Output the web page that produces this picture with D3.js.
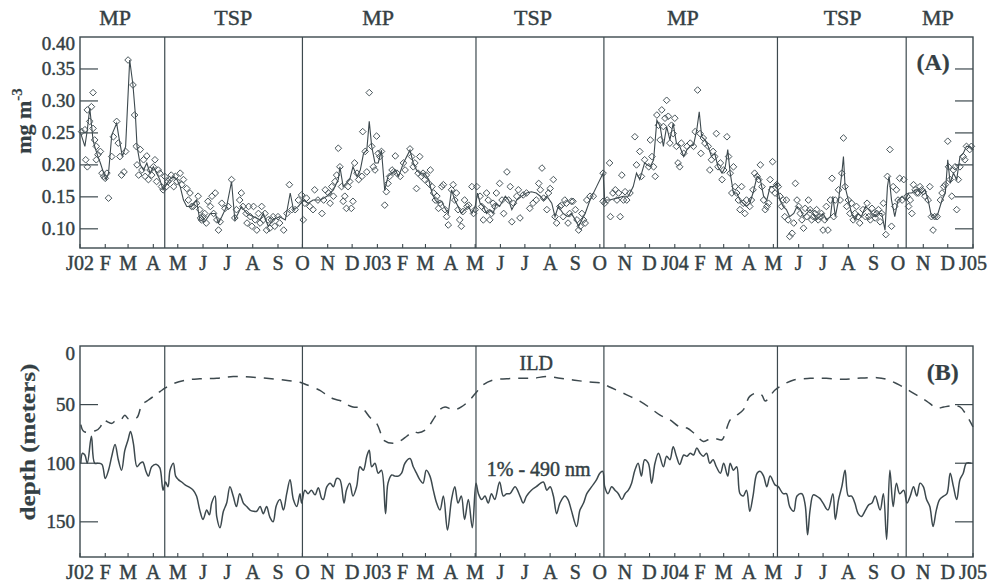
<!DOCTYPE html>
<html>
<head>
<meta charset="utf-8">
<script src="https://cdn.jsdelivr.net/npm/d3@7"></script>
<style>
  body { margin: 0; background: #ffffff; }
  text {
    font-family: "Liberation Serif", "Times New Roman", Times, serif;
    fill: #343f44;
    stroke: #343f44;
    stroke-width: 0.45px;
  }
</style>
</head>
<body>
<svg id="chart" width="988" height="586"></svg>
<script>
// ---------------------------------------------------------------------------
// Data (time is given as days since 1 Jan 2002)
// ---------------------------------------------------------------------------
const monthLabels = ["J02","F","M","A","M","J","J","A","S","O","N","D",
                     "J03","F","M","A","M","J","J","A","S","O","N","D",
                     "J04","F","M","A","M","J","J","A","S","O","N","D","J05"];

const periodNames = ["MP","TSP","MP","TSP","MP","TSP","MP"];
const periodLabelDays = [43, 188, 366, 556, 740, 936, 1053];
const periodBreakDays = [104, 273, 486, 643, 856, 1014];

const chlTicks = [0.10, 0.15, 0.20, 0.25, 0.30, 0.35, 0.40];
const depthTicks = [0, 50, 100, 150];

// Surface chlorophyll (mg m-3): running series
const chlSeries = [
  [1,0.249],[6,0.229],[9,0.255],[12,0.289],[16,0.239],[18,0.229],[22,0.213],[25,0.203],[29,0.187],[32,0.177],
  [35,0.187],[39,0.247],[45,0.265],[47,0.249],[49,0.234],[52,0.213],[56,0.229],[61,0.364],[65,0.325],[68,0.278],
  [70,0.229],[74,0.200],[78,0.192],[82,0.203],[86,0.187],[90,0.197],[94,0.187],[98,0.177],[102,0.161],[106,0.169],
  [110,0.177],[115,0.182],[119,0.177],[123,0.166],[127,0.145],[131,0.135],[137,0.135],[143,0.145],[147,0.114],[153,0.111],
  [160,0.124],[166,0.124],[170,0.109],[174,0.119],[180,0.135],[186,0.174],[190,0.114],[194,0.124],[198,0.135],[205,0.124],
  [213,0.119],[221,0.114],[225,0.124],[231,0.104],[237,0.114],[245,0.119],[252,0.114],[258,0.156],[262,0.130],[268,0.135],
  [274,0.145],[280,0.140],[286,0.145],
  [295,0.145],[303,0.151],[311,0.161],[317,0.177],[319,0.197],[323,0.166],[331,0.177],[335,0.197],[340,0.182],[344,0.192],
  [348,0.218],[352,0.223],[355,0.268],[358,0.229],[362,0.203],[366,0.203],[370,0.223],[374,0.160],[378,0.182],[383,0.187],
  [387,0.192],[391,0.182],[397,0.203],[405,0.223],[409,0.203],[413,0.192],[417,0.187],[423,0.187],[428,0.177],[432,0.156],
  [436,0.145],[440,0.140],[444,0.143],[448,0.132],[452,0.124],[456,0.161],[460,0.145],[464,0.135],[468,0.124],[472,0.130],
  [477,0.135],[481,0.124],[485,0.135],[488,0.156],[491,0.140],[495,0.135],[499,0.124],[503,0.130],[507,0.124],[511,0.140],
  [515,0.135],[522,0.151],[526,0.145],[530,0.130],[536,0.145],[542,0.151],[548,0.156],[554,0.158],[560,0.156],[565,0.151],
  [569,0.145],[573,0.151],[579,0.140],[583,0.119],[587,0.135],[593,0.124],[599,0.119],[603,0.124],[608,0.114],[612,0.104],
  [616,0.114],[620,0.124],[626,0.145],[634,0.166],[642,0.187],[644,0.145],[650,0.145],[659,0.148],[667,0.151],[673,0.151],
  [679,0.166],[683,0.187],[687,0.177],[693,0.203],
  [700,0.197],[704,0.208],[708,0.270],[712,0.260],[716,0.229],[720,0.260],[724,0.239],[728,0.265],[732,0.234],[736,0.229],
  [741,0.213],[745,0.224],[749,0.229],[753,0.231],[757,0.255],[760,0.283],[763,0.244],[767,0.239],[771,0.229],[775,0.213],
  [779,0.218],[783,0.197],[788,0.187],[792,0.197],[795,0.224],[798,0.187],[802,0.156],[806,0.156],[810,0.145],[814,0.140],
  [818,0.135],[822,0.140],[826,0.156],[831,0.182],[835,0.177],[839,0.151],[843,0.145],[847,0.166],[851,0.166],[855,0.171],
  [859,0.145],[863,0.135],[867,0.130],[871,0.119],[876,0.124],[880,0.135],[884,0.130],[888,0.119],[892,0.124],[896,0.130],
  [900,0.124],[904,0.114],[908,0.119],[912,0.124],[916,0.114],[921,0.119],[924,0.151],[927,0.119],[931,0.145],[935,0.187],
  [937,0.213],[939,0.166],[943,0.145],[947,0.124],[951,0.114],[955,0.124],[959,0.119],[964,0.135],[968,0.130],[972,0.124],
  [976,0.119],[980,0.124],[984,0.124],[988,0.098],[991,0.166],[993,0.182],[996,0.145],[1000,0.119],[1004,0.145],[1009,0.151],
  [1013,0.145],[1017,0.156],[1021,0.156],[1025,0.161],[1029,0.161],[1033,0.156],[1037,0.161],[1041,0.145],[1045,0.119],[1049,0.117],
  [1053,0.124],[1058,0.145],[1062,0.156],[1065,0.208],[1068,0.171],[1072,0.187],[1076,0.177],[1080,0.213],[1084,0.218],[1088,0.229],
  [1092,0.229],[1096,0.224]
];

// Surface chlorophyll (mg m-3): individual retrievals
const chlSamples = [
  [2,0.252],[6,0.255],[7,0.208],[9,0.197],[9,0.286],[12,0.268],[16,0.313],[14,0.291],[16,0.257],[18,0.239],
  [20,0.229],[20,0.208],[22,0.216],[25,0.221],[27,0.187],[29,0.182],[31,0.179],[33,0.187],[35,0.148],[39,0.213],
  [41,0.244],[45,0.268],[47,0.234],[49,0.213],[51,0.184],[54,0.189],[56,0.221],[59,0.364],[65,0.325],[67,0.278],
  [69,0.229],[70,0.200],[72,0.184],[74,0.224],[76,0.192],[78,0.208],[80,0.182],[82,0.214],[84,0.177],[86,0.192],
  [88,0.184],[90,0.197],[92,0.208],[94,0.174],[96,0.192],[98,0.187],[100,0.166],[102,0.161],[104,0.182],[106,0.166],
  [108,0.174],[110,0.177],[112,0.184],[115,0.166],[117,0.182],[119,0.174],[123,0.187],[125,0.169],[127,0.177],[131,0.163],
  [133,0.145],[135,0.156],[137,0.135],[139,0.135],[143,0.140],[145,0.151],[147,0.130],[148,0.117],[149,0.114],[151,0.119],
  [153,0.124],[155,0.109],[157,0.143],[160,0.135],[162,0.151],[164,0.124],[166,0.156],[168,0.114],[170,0.098],[172,0.111],
  [174,0.140],[178,0.132],[182,0.135],[186,0.177],[190,0.117],[192,0.130],[196,0.145],[198,0.156],[200,0.135],[204,0.124],
  [205,0.109],[207,0.135],[209,0.119],[211,0.104],[213,0.135],[215,0.114],[217,0.098],[219,0.124],[221,0.109],[223,0.135],
  [225,0.114],[227,0.124],[229,0.098],[231,0.114],[233,0.101],[235,0.114],[237,0.119],[239,0.104],[243,0.119],[245,0.109],
  [250,0.098],[254,0.124],[257,0.169],[260,0.130],[264,0.130],[268,0.145],[272,0.153],[274,0.114],[276,0.140],[278,0.148],
  [282,0.135],[286,0.130],[288,0.161],[292,0.145],
  [297,0.124],[299,0.145],[301,0.161],[305,0.156],[307,0.140],[309,0.166],[311,0.151],[313,0.174],[315,0.184],[317,0.226],
  [319,0.197],[321,0.166],[323,0.143],[325,0.151],[327,0.132],[329,0.166],[331,0.174],[333,0.132],[335,0.143],[337,0.203],
  [340,0.187],[342,0.177],[346,0.182],[347,0.252],[350,0.221],[352,0.189],[355,0.313],[358,0.229],[360,0.197],[362,0.192],
  [364,0.245],[366,0.218],[368,0.213],[370,0.221],[374,0.137],[376,0.158],[378,0.171],[380,0.182],[383,0.192],[385,0.189],
  [387,0.214],[389,0.187],[393,0.182],[397,0.203],[399,0.192],[405,0.225],[407,0.213],[409,0.197],[411,0.203],[413,0.163],
  [415,0.187],[417,0.213],[419,0.182],[421,0.187],[423,0.177],[425,0.184],[428,0.171],[430,0.192],[432,0.166],[434,0.156],
  [436,0.145],[438,0.151],[440,0.132],[442,0.140],[444,0.166],[446,0.169],[448,0.130],[450,0.119],[452,0.106],[456,0.161],
  [458,0.169],[460,0.145],[462,0.156],[464,0.130],[466,0.114],[468,0.104],[470,0.127],[472,0.145],[475,0.135],[477,0.137],
  [481,0.166],[483,0.124],[485,0.130],[487,0.166],[491,0.151],[493,0.135],[495,0.114],[497,0.130],[499,0.156],[501,0.145],
  [503,0.114],[505,0.124],[507,0.140],[509,0.135],[511,0.156],[515,0.171],[518,0.145],[520,0.124],[524,0.189],[526,0.145],
  [528,0.166],[530,0.111],[532,0.140],[536,0.151],[538,0.161],[540,0.117],[544,0.153],[548,0.156],[552,0.132],[556,0.140],
  [560,0.145],[563,0.171],[565,0.161],[567,0.195],[569,0.148],[573,0.130],[575,0.156],[577,0.163],[581,0.177],[583,0.119],
  [585,0.109],[589,0.135],[591,0.137],[593,0.119],[595,0.145],[597,0.140],[599,0.109],[601,0.124],[603,0.143],[605,0.143],
  [608,0.130],[610,0.114],[612,0.098],[614,0.104],[616,0.124],[618,0.114],[620,0.109],[622,0.145],[626,0.151],[630,0.151],
  [642,0.187],[642,0.143],[644,0.140],[647,0.145],[650,0.203],[651,0.119],[654,0.156],[657,0.161],[659,0.145],[661,0.156],
  [663,0.119],[665,0.184],[667,0.145],[669,0.158],[671,0.145],[675,0.156],[681,0.244],[683,0.200],[687,0.221],[689,0.182],
  [693,0.208],[698,0.197],
  [700,0.239],[702,0.213],[704,0.197],[706,0.182],[708,0.278],[710,0.262],[712,0.239],[714,0.286],[716,0.260],[718,0.273],
  [720,0.301],[722,0.276],[724,0.234],[726,0.262],[728,0.249],[730,0.273],[732,0.229],[734,0.203],[736,0.197],[738,0.234],
  [741,0.218],[745,0.229],[749,0.234],[753,0.229],[755,0.252],[758,0.317],[761,0.249],[762,0.218],[765,0.242],[767,0.234],
  [771,0.229],[773,0.192],[775,0.208],[777,0.221],[779,0.213],[781,0.249],[783,0.197],[786,0.203],[788,0.177],[790,0.192],
  [794,0.244],[796,0.213],[798,0.187],[800,0.156],[802,0.197],[804,0.166],[806,0.156],[808,0.145],[810,0.130],[812,0.166],
  [814,0.140],[816,0.124],[818,0.145],[822,0.135],[824,0.145],[826,0.161],[828,0.187],[831,0.182],[833,0.177],[835,0.200],
  [837,0.166],[839,0.145],[841,0.130],[843,0.135],[845,0.140],[847,0.177],[849,0.161],[850,0.205],[853,0.156],[855,0.169],
  [857,0.166],[859,0.151],[861,0.135],[863,0.145],[865,0.119],[867,0.145],[869,0.114],[871,0.088],[874,0.093],[876,0.109],
  [878,0.171],[880,0.145],[882,0.135],[884,0.124],[886,0.114],[888,0.101],[890,0.132],[892,0.119],[894,0.145],[896,0.130],
  [898,0.114],[900,0.119],[902,0.124],[904,0.130],[906,0.114],[908,0.119],[910,0.124],[912,0.098],[914,0.114],[916,0.135],
  [918,0.098],[921,0.145],[923,0.179],[925,0.119],[927,0.145],[931,0.161],[933,0.145],[935,0.187],[937,0.242],[939,0.166],
  [941,0.135],[943,0.145],[945,0.124],[947,0.140],[949,0.114],[951,0.124],[953,0.135],[955,0.119],[957,0.109],[961,0.130],
  [964,0.119],[966,0.140],[968,0.119],[970,0.114],[972,0.132],[974,0.124],[976,0.117],[978,0.124],[980,0.130],[982,0.111],
  [984,0.124],[986,0.140],[989,0.091],[991,0.182],[994,0.224],[996,0.104],[998,0.166],[1000,0.135],[1002,0.161],[1004,0.145],
  [1006,0.179],[1009,0.145],[1011,0.177],[1015,0.151],[1017,0.135],[1019,0.145],[1021,0.124],[1023,0.169],[1025,0.161],[1027,0.156],
  [1029,0.156],[1031,0.166],[1033,0.161],[1035,0.158],[1037,0.151],[1041,0.145],[1043,0.166],[1045,0.119],[1047,0.098],[1049,0.119],
  [1052,0.119],[1056,0.145],[1058,0.156],[1060,0.166],[1062,0.169],[1065,0.237],[1066,0.197],[1068,0.177],[1070,0.151],[1072,0.192],
  [1074,0.197],[1076,0.130],[1078,0.177],[1080,0.197],[1084,0.213],[1086,0.208],[1088,0.229],[1092,0.224],[1094,0.229]
];

// Isothermal layer depth (m)
const ildDepth = [
  [1,67],[5,73],[20,72],[25,69],[29,63],[32,64],[39,66],[43,64],[50,63],[55,59],[59,62],[63,62.5],[70,61],[76,50],
  [82,47],[90,43],[94,40],[98,39],[104,36],[115,32],[131,29],[147,28],[168,27.5],[188,26],[209,26.5],[229,27.5],
  [250,29],[270,31],[278,33],[295,38],[303,42],[311,45],[321,47],[325,49],[335,52],[346,53],[356,61],[364,66],
  [370,76],[374,81],[385,83],[393,81],[401,77],[409,73],[415,74],[425,71],[436,60],[442,54],[448,52],[456,54],
  [462,54],[468,52],[477,47],[487,39],[495,33],[507,29],[524,28],[540,27.5],[556,27.5],[573,26],[589,27.5],[605,29],
  [622,30.5],[642,32],[650,35],[663,39],[675,43],[687,47],[700,53],[712,59],[724,63],[736,69],[745,70],[753,74],
  [765,81.5],[771,80],[779,79],[788,80],[792,74],[798,63],[806,59],[814,54.5],[822,43],[831,40],[837,42],[841,47],
  [853,37.5],[863,33],[876,29],[896,27.6],[916,27.6],[937,28.4],[953,27.6],[978,27],[990,28.4],[1002,32],[1013,36],
  [1027,42],[1039,47],[1052,53],[1060,52],[1072,51],[1080,52],[1088,59],[1096,69]
];

// Depth of the 1% light level at 490 nm (m)
const lightDepth = [
  [1,100],[3,91.5],[6,93],[9,100],[14,77],[18,100],[22.5,100],[27,101],[31,113],[35,106],[39,94],[43,84],[47,97],
  [51,106],[55,89],[59,80],[62,73],[65.5,83],[70,103],[74,100],[77,99],[81,107],[84,111],[88,103],[94,101],[98,104],
  [102,123],[105,116],[108,120],[110.5,106],[114.6,100],[117.4,111],[120.7,114],[124.8,116],[129,118.5],[133,120],
  [139,123],[143,128],[147,140],[151,148],[155.5,140],[158.8,144],[161.6,134],[165.7,128],[167.8,145.5],[171.8,155],
  [176,141],[180,134],[184,120],[188,128],[192,137],[196,126],[200.5,134],[204.6,137],[208.7,140],[212.8,141],
  [216.9,141],[221,137],[225,143],[229,137],[233,146],[237,150],[241,136],[245.5,131],[249.6,140],[253.7,126],
  [257.8,114],[261.9,131],[266,137],[270,126],[272,134],[276,123],[280,126],[284,123],[288.5,127],[292.5,121],[296.6,130],
  [298.6,131],[303,120],[307,117],[311,120],[315,113],[319,114],[324,134],[327,123],[331,117],[335,128],[339.5,120],
  [343.6,103],[347.7,106],[352,94],[355,89],[358,103],[362,100],[366,108.5],[370,106],[375,143],[378,117],[382.5,110],
  [386.6,111],[390.7,111],[394.7,108.5],[398.8,100],[405,96],[409,103],[413,108.5],[417,114],[421,117],[425,106],
  [429.5,111],[433.6,123],[437.7,134],[441.8,140],[446,128],[451,157],[456,131],[460,120],[464,134],[468,128],[472,148],
  [476.6,131],[481.5,155],[486,117],[489,126],[493,131],[497,128],[501,134],[505,126],[509,131],[515,116],[519.5,128],
  [523.6,126],[527.7,126],[534,120],[540,128],[544,134],[548,128],[554,123],[560,120],[568.6,116],[573,123],[577,120],
  [581,128],[585,143],[589,134],[595,128],[599,131],[603,140],[609.5,154],[613.6,140],[618,134],[622,126],[628,120],
  [634,114],[638,108.5],[641.5,107],[644,120],[648,126],[652.5,120],[656.6,123],[660.7,126],[665,131],[669,126],[673,123],
  [677,117],[681,106],[685,100],[689,111],[693,97],[697.5,100],[701.6,117],[705.7,100],[710,91.5],
  [716,103],[720,94],[724,97],[728,86],[732,94],[736,101],[741,93],[745,94],[749,91.5],[753,93],[757,87],[761,91.5],
  [765,94],[769,91.5],[773,100],[777,97],[781,103],[786,108.5],[790,100],[795,111],[798,100],[802,106],[806,103],
  [810,126],[814,128],[818,123],[822,141],[826,128],[831,108.5],[835,107],[839,111],[843,120],[847,111],[853,118.5],
  [857,120],[863,126],[867,126],[871,137],[876,141],[880,128],[886,126],[890,135.5],[893,161],[896,140],[900,127],
  [904,128],[908,130],[912,134],[918,140],[924,126],[927,148],[931,131],[935,120],[939,106],[943,128],[947,128],
  [951,134],[955,143],[959,145.5],[964,140],[968,135.5],[972,134],[976,128],[982,140],[986,126],[990,165],[994,106],
  [998,137],[1002,117],[1006,126],[1011,123],[1015,134],[1019,128],[1023,120],[1027,128],[1031,117],[1035,120],
  [1039,131],[1043,137],[1047,154],[1051,140],[1055,131],[1060,128],[1064,126],[1068,108.5],[1072,120],[1076,131],
  [1080,114],[1084,108.5],[1088,100],[1094,100]
];

// ---------------------------------------------------------------------------
// Layout and scales
// ---------------------------------------------------------------------------
const ink = "#3d494e";
const plotLeft = 80, plotRight = 973;
const panelA = { top: 37, bottom: 248 };
const panelB = { top: 346, bottom: 557 };

const origin = Date.UTC(2002, 0, 1);
const dayToDate = d => new Date(origin + d * 864e5);

const x = d3.scaleUtc()
  .domain([new Date(origin), new Date(Date.UTC(2005, 0, 1))])
  .range([plotLeft, plotRight]);
const yChl = d3.scaleLinear().domain([0.07, 0.40]).range([panelA.bottom, panelA.top]);
const yDepth = d3.scaleLinear().domain([0, 180]).range([panelB.top, panelB.bottom]);

const months = d3.utcMonth.range(new Date(origin), new Date(Date.UTC(2005, 0, 2)));

const svg = d3.select("#chart");

// ---------------------------------------------------------------------------
// Shared frame drawing for one panel
// ---------------------------------------------------------------------------
function drawFrame(g, panel, y, ticks, fmt, topLabelShift) {
  // period separators
  g.selectAll("line.sep").data(periodBreakDays).join("line")
    .attr("class", "sep")
    .attr("x1", d => x(dayToDate(d))).attr("x2", d => x(dayToDate(d)))
    .attr("y1", panel.top).attr("y2", panel.bottom)
    .attr("stroke", ink).attr("stroke-width", 1.2);

  // inward y ticks, left and right
  const inner = ticks.filter(t => y(t) > panel.top + 1);
  g.selectAll("line.ytl").data(inner).join("line")
    .attr("class", "ytl")
    .attr("x1", plotLeft).attr("x2", plotLeft + 18)
    .attr("y1", d => y(d)).attr("y2", d => y(d))
    .attr("stroke", ink).attr("stroke-width", 1.2);
  g.selectAll("line.ytr").data(inner).join("line")
    .attr("class", "ytr")
    .attr("x1", plotRight - 18).attr("x2", plotRight)
    .attr("y1", d => y(d)).attr("y2", d => y(d))
    .attr("stroke", ink).attr("stroke-width", 1.2);

  // y tick labels
  g.selectAll("text.ylab").data(ticks).join("text")
    .attr("class", "ylab")
    .attr("x", plotLeft - 5)
    .attr("y", d => y(d) + (y(d) <= panel.top + 1 ? topLabelShift : 0))
    .attr("dy", "0.34em")
    .attr("text-anchor", "end")
    .attr("font-size", 19)
    .text(fmt);

  // inward month ticks on the bottom edge
  g.selectAll("line.xt").data(months).join("line")
    .attr("class", "xt")
    .attr("x1", d => x(d)).attr("x2", d => x(d))
    .attr("y1", panel.bottom).attr("y2", panel.bottom - 4)
    .attr("stroke", ink).attr("stroke-width", 1.1);

  // month labels
  g.selectAll("text.xlab").data(months).join("text")
    .attr("class", "xlab")
    .attr("x", d => x(d))
    .attr("y", panel.bottom + 22)
    .attr("text-anchor", "middle")
    .attr("font-size", 20)
    .text((d, i) => monthLabels[i]);

  // outer frame
  g.append("rect")
    .attr("x", plotLeft).attr("y", panel.top)
    .attr("width", plotRight - plotLeft).attr("height", panel.bottom - panel.top)
    .attr("fill", "none").attr("stroke", ink).attr("stroke-width", 1.4);
}

// ---------------------------------------------------------------------------
// Panel A: surface chlorophyll
// ---------------------------------------------------------------------------
const gA = svg.append("g");

const diamond = {
  draw(ctx, size) {
    const r = Math.sqrt(size / 2);
    ctx.moveTo(0, -r); ctx.lineTo(r, 0); ctx.lineTo(0, r); ctx.lineTo(-r, 0); ctx.closePath();
  }
};

gA.append("path")
  .datum(chlSeries)
  .attr("fill", "none")
  .attr("stroke", ink)
  .attr("stroke-width", 1.1)
  .attr("d", d3.line().x(d => x(dayToDate(d[0]))).y(d => yChl(d[1])));

gA.selectAll("path.pt").data(chlSamples).join("path")
  .attr("class", "pt")
  .attr("transform", d => `translate(${x(dayToDate(d[0]))},${yChl(d[1])})`)
  .attr("d", d3.symbol(diamond, 22))
  .attr("fill", "none")
  .attr("stroke", "#48555a")
  .attr("stroke-width", 1);

drawFrame(gA, panelA, yChl, chlTicks, d => d3.format(".2f")(d), 7);

// period names above panel A
gA.selectAll("text.period").data(periodNames).join("text")
  .attr("class", "period")
  .attr("x", (d, i) => x(dayToDate(periodLabelDays[i])))
  .attr("y", 25)
  .attr("text-anchor", "middle")
  .attr("font-size", 22)
  .text(d => d);

gA.append("text")
  .attr("x", x(dayToDate(1047))).attr("y", yChl(0.348))
  .attr("text-anchor", "middle").attr("font-size", 24).attr("font-weight", "bold")
  .style("stroke-width", "0.2px")
  .text("(A)");

const chlTitle = gA.append("text")
  .attr("transform", "translate(31,121) rotate(-90)")
  .attr("text-anchor", "middle").attr("font-size", 22).attr("font-weight", "bold")
  .style("stroke-width", "0.2px");
chlTitle.append("tspan").text("mg m");
chlTitle.append("tspan").attr("dy", -9).attr("font-size", 15).text("-3");

// ---------------------------------------------------------------------------
// Panel B: isothermal layer depth and 1% light depth
// ---------------------------------------------------------------------------
const gB = svg.append("g");

gB.append("path")
  .datum(ildDepth)
  .attr("fill", "none")
  .attr("stroke", ink)
  .attr("stroke-width", 1.5)
  .attr("stroke-dasharray", "10,8")
  .attr("d", d3.line().curve(d3.curveCatmullRom.alpha(0.5))
    .x(d => x(dayToDate(d[0]))).y(d => yDepth(d[1])));

gB.append("path")
  .datum(lightDepth)
  .attr("fill", "none")
  .attr("stroke", ink)
  .attr("stroke-width", 1.5)
  .attr("d", d3.line().curve(d3.curveCatmullRom.alpha(0.5))
    .x(d => x(dayToDate(d[0]))).y(d => yDepth(d[1])));

drawFrame(gB, panelB, yDepth, depthTicks, d => String(d), 8);

gB.append("text")
  .attr("x", x(dayToDate(560))).attr("y", yDepth(20.5))
  .attr("text-anchor", "middle").attr("font-size", 20)
  .text("ILD");

gB.append("text")
  .attr("x", x(dayToDate(563))).attr("y", yDepth(111))
  .attr("text-anchor", "middle").attr("font-size", 20)
  .text("1% - 490 nm");

gB.append("text")
  .attr("x", x(dayToDate(1059))).attr("y", yDepth(29))
  .attr("text-anchor", "middle").attr("font-size", 24).attr("font-weight", "bold")
  .style("stroke-width", "0.2px")
  .text("(B)");

gB.append("text")
  .attr("transform", "translate(35,442) rotate(-90)")
  .attr("text-anchor", "middle").attr("font-size", 21).attr("font-weight", "bold")
  .attr("textLength", 157).attr("lengthAdjust", "spacingAndGlyphs")
  .style("stroke-width", "0.2px")
  .text("depth (meters)");
</script>
</body>
</html>
